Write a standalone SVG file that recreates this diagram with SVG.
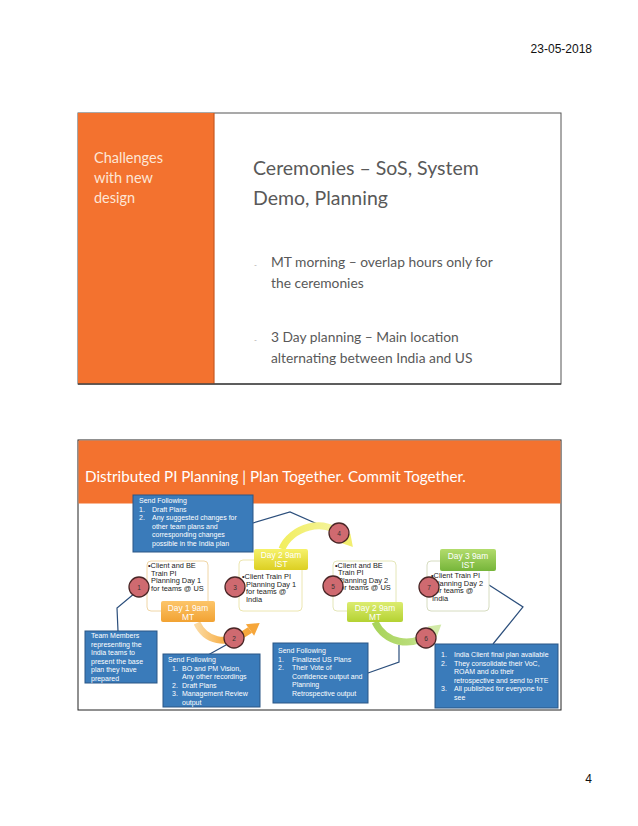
<svg xmlns="http://www.w3.org/2000/svg" width="638" height="826" viewBox="0 0 638 826">
<defs>
<style>
.sans{font-family:"Liberation Sans",Arial,sans-serif}
.cal{font-family:Lato,"Open Sans",sans-serif}
.blue{fill:#3a7bba;stroke:#2a5685;stroke-width:1}
.bt{font-family:"Liberation Sans",Arial,sans-serif;font-size:7px;fill:#ffffff}
.node{fill:#ffffff;stroke-width:1}
.nt{font-family:"Liberation Sans",Arial,sans-serif;font-size:7.4px;fill:#222222}
.lbl{font-family:"Liberation Sans",Arial,sans-serif;font-size:8.4px;fill:#ffffff;text-anchor:middle}
.circ{fill:#cf6a70;stroke:#4a2626;stroke-width:1.3}
.cn{font-family:"Liberation Sans",Arial,sans-serif;font-size:6.5px;fill:#333;text-anchor:middle}
.conn{fill:none;stroke:#2c4f7c;stroke-width:1.2}
</style>
<linearGradient id="gOr" x1="0" y1="0" x2="0" y2="1"><stop offset="0" stop-color="#fcc56a"/><stop offset="1" stop-color="#f2a232"/></linearGradient>
<linearGradient id="gYe" x1="0" y1="0" x2="0" y2="1"><stop offset="0" stop-color="#f6f26a"/><stop offset="1" stop-color="#dccf22"/></linearGradient>
<linearGradient id="gYg" x1="0" y1="0" x2="0" y2="1"><stop offset="0" stop-color="#dcec70"/><stop offset="1" stop-color="#b4d232"/></linearGradient>
<linearGradient id="gGr" x1="0" y1="0" x2="0" y2="1"><stop offset="0" stop-color="#b2dc6c"/><stop offset="1" stop-color="#76b53a"/></linearGradient>
<linearGradient id="aOr" x1="0" y1="0" x2="1" y2="0"><stop offset="0" stop-color="#fbd9a0"/><stop offset="0.5" stop-color="#f7b04a"/><stop offset="1" stop-color="#f6a63a"/></linearGradient>
<linearGradient id="aYe" x1="0" y1="0" x2="1" y2="0"><stop offset="0" stop-color="#f2ee60"/><stop offset="1" stop-color="#f4f4a8"/></linearGradient>
<linearGradient id="aGr" x1="0" y1="0" x2="1" y2="0"><stop offset="0" stop-color="#a8d45a"/><stop offset="0.6" stop-color="#b8dc78"/><stop offset="1" stop-color="#d6ecb0"/></linearGradient>
</defs>
<rect width="638" height="826" fill="#ffffff"/>

<text class="sans" x="592" y="53" font-size="12" text-anchor="end" fill="#111">23-05-2018</text>
<text class="sans" x="592" y="783" font-size="12" text-anchor="end" fill="#111">4</text>

<!-- Top slide -->
<g id="slide1">
<rect x="78" y="113" width="483" height="271" fill="#ffffff" stroke="#555" stroke-width="1"/>
<rect x="78" y="113" width="136" height="271" fill="#f3722f"/>
<line x1="214" y1="113" x2="214" y2="384" stroke="#c85a22" stroke-width="1.2"/>
<line x1="78" y1="384" x2="561" y2="384" stroke="#444" stroke-width="1.5"/>
<g class="cal" font-size="14.5" fill="#fde6d6">
<text x="94" y="163">Challenges</text>
<text x="94" y="183">with new</text>
<text x="94" y="203">design</text>
</g>
<g class="cal" fill="#595959">
<text x="253" y="175" font-size="19.5">Ceremonies – SoS, System</text>
<text x="253" y="205" font-size="19.5">Demo, Planning</text>
<text x="254" y="268" font-size="8" fill="#aaa">-</text>
<text x="271" y="267" font-size="13.8">MT morning – overlap hours only for</text>
<text x="271" y="288" font-size="13.8">the ceremonies</text>
<text x="254" y="343" font-size="8" fill="#aaa">-</text>
<text x="271" y="342" font-size="13.8">3 Day planning – Main location</text>
<text x="271" y="363" font-size="13.8">alternating between India and US</text>
</g>
</g>

<!-- Bottom slide -->
<g id="slide2">
<rect x="78" y="440" width="483" height="270" fill="#ffffff" stroke="#222" stroke-width="1"/>
<rect x="78.5" y="440.5" width="482" height="63" fill="#f3722f"/>
<text class="cal" x="85" y="482" font-size="15.2" fill="#ffffff">Distributed PI Planning | Plan Together. Commit Together.</text>
</g>

<!-- connectors -->
<g id="connectors">
<polyline class="conn" points="253,523 290,512 331,530"/>
<polyline class="conn" points="135,593 117,608 118,631"/>
<polyline class="conn" points="226,645 208,655"/>
<polyline class="conn" points="368,673 399,662 399,645"/>
<polyline class="conn" points="489,585 523,607 493,644"/>
<!-- curved arrows -->
<path d="M197 623 C205 640 225 648 250 630" fill="none" stroke="url(#aOr)" stroke-width="7"/>
<polygon points="245.9,624.3 259.7,623 254.1,635.7" fill="#f6a63a"/>
<path d="M282 549 C290 528 325 515 345 538" fill="none" stroke="url(#aYe)" stroke-width="7"/>
<polygon points="350.3,533.4 352.9,547 339.8,542.6" fill="#f2ee70"/>
<path d="M375 622 C385 642 410 650 432 632" fill="none" stroke="url(#aGr)" stroke-width="7"/>
<polygon points="436.4,637.4 441.3,624.4 427.6,626.6" fill="#d2eaa8"/>
</g>

<!-- blue note boxes -->
<g id="noteA">
<rect class="blue" x="133" y="495" width="120" height="57"/>
<text class="bt" x="139" y="503">Send Following</text>
<text class="bt" x="139" y="511.5">1.</text><text class="bt" x="152" y="511.5">Draft Plans</text>
<text class="bt" x="139" y="520">2.</text><text class="bt" x="152" y="520">Any suggested changes for</text>
<text class="bt" x="152" y="528.5">other team plans and</text>
<text class="bt" x="152" y="537">corresponding changes</text>
<text class="bt" x="152" y="545.5">possible in the India plan</text>
</g>
<g id="noteB">
<rect class="blue" x="85" y="631" width="72" height="52"/>
<text class="bt" x="91" y="638">Team Members</text>
<text class="bt" x="91" y="646.5">representing the</text>
<text class="bt" x="91" y="655">India teams to</text>
<text class="bt" x="91" y="663.5">present the base</text>
<text class="bt" x="91" y="672">plan they have</text>
<text class="bt" x="91" y="680.5">prepared</text>
</g>
<g id="noteC">
<rect class="blue" x="163" y="654" width="97" height="53"/>
<text class="bt" x="168" y="662">Send Following</text>
<text class="bt" x="172" y="670.5">1.</text><text class="bt" x="182" y="670.5">BO and PM Vision,</text>
<text class="bt" x="182" y="679">Any other recordings</text>
<text class="bt" x="172" y="687.5">2.</text><text class="bt" x="182" y="687.5">Draft Plans</text>
<text class="bt" x="172" y="696">3.</text><text class="bt" x="182" y="696">Management Review</text>
<text class="bt" x="182" y="704.5">output</text>
</g>
<g id="noteD">
<rect class="blue" x="273" y="643" width="95" height="60"/>
<text class="bt" x="278" y="653">Send Following</text>
<text class="bt" x="278" y="661.5">1.</text><text class="bt" x="292" y="661.5">Finalized US Plans</text>
<text class="bt" x="278" y="670">2.</text><text class="bt" x="292" y="670">Their Vote of</text>
<text class="bt" x="292" y="678.5">Confidence output and</text>
<text class="bt" x="292" y="687">Planning</text>
<text class="bt" x="292" y="695.5">Retrospective output</text>
</g>
<g id="noteE">
<rect class="blue" x="435" y="644" width="123" height="64"/>
<text class="bt" x="441" y="657">1.</text><text class="bt" x="454" y="657">India Client final plan available</text>
<text class="bt" x="441" y="665.5">2.</text><text class="bt" x="454" y="665.5">They consolidate their VoC,</text>
<text class="bt" x="454" y="674">ROAM and do their</text>
<text class="bt" x="454" y="682.5">retrospective and send to RTE</text>
<text class="bt" x="441" y="691">3.</text><text class="bt" x="454" y="691">All published for everyone to</text>
<text class="bt" x="454" y="699.5">see</text>
</g>

<!-- nodes -->
<g id="node1">
<rect class="node" x="147" y="561" width="61" height="50" rx="4" stroke="#f0d6a6"/>
<text class="nt" x="148" y="568">•Client and BE</text>
<text class="nt" x="151" y="575.5">Train PI</text>
<text class="nt" x="151" y="583">Planning Day 1</text>
<text class="nt" x="151" y="590.5">for teams @ US</text>
<rect x="161" y="601" width="54" height="21" rx="2" fill="url(#gOr)"/>
<text class="lbl" x="188" y="610.5">Day 1 9am</text>
<text class="lbl" x="188" y="619.5">MT</text>
</g>
<g id="node3">
<rect class="node" x="239" y="560" width="63" height="51" rx="4" stroke="#ece6b0"/>
<text class="nt" x="242" y="579">•Client Train PI</text>
<text class="nt" x="246" y="586.5">Planning Day 1</text>
<text class="nt" x="246" y="594">for teams @</text>
<text class="nt" x="246" y="601.5">India</text>
<rect x="254" y="549" width="54" height="21" rx="2" fill="url(#gYe)"/>
<text class="lbl" x="281" y="558">Day 2 9am</text>
<text class="lbl" x="281" y="567">IST</text>
</g>
<g id="node5">
<rect class="node" x="333" y="561" width="63" height="50" rx="4" stroke="#e4e6b8"/>
<text class="nt" x="335" y="567.5">•Client and BE</text>
<text class="nt" x="338" y="575">Train PI</text>
<text class="nt" x="338" y="582.5">Planning Day 2</text>
<text class="nt" x="338" y="590">for teams @ US</text>
<rect x="347" y="602" width="56" height="20" rx="2" fill="url(#gYg)"/>
<text class="lbl" x="375" y="610.5">Day 2 9am</text>
<text class="lbl" x="375" y="619.5">MT</text>
</g>
<g id="node7">
<rect class="node" x="427" y="561" width="62" height="50" rx="4" stroke="#d6dcc0"/>
<text class="nt" x="431" y="578">•Client Train PI</text>
<text class="nt" x="433" y="585.5">Planning Day 2</text>
<text class="nt" x="433" y="593">for teams @</text>
<text class="nt" x="432" y="600.5">India</text>
<rect x="440" y="549" width="56" height="22" rx="2" fill="url(#gGr)"/>
<text class="lbl" x="468" y="558.5">Day 3 9am</text>
<text class="lbl" x="468" y="567.5">IST</text>
</g>

<!-- numbered circles -->
<g id="c1"><circle class="circ" cx="139" cy="587" r="10"/><text class="cn" x="139" y="589.5">1</text></g>
<g id="c2"><circle class="circ" cx="234" cy="638" r="10"/><text class="cn" x="234" y="640.5">2</text></g>
<g id="c3"><circle class="circ" cx="235" cy="587" r="10"/><text class="cn" x="235" y="589.5">3</text></g>
<g id="c4"><circle class="circ" cx="339" cy="533" r="10"/><text class="cn" x="339" y="535.5">4</text></g>
<g id="c5"><circle class="circ" cx="333" cy="586" r="10"/><text class="cn" x="333" y="588.5">5</text></g>
<g id="c6"><circle class="circ" cx="426" cy="638" r="10"/><text class="cn" x="426" y="640.5">6</text></g>
<g id="c7"><circle class="circ" cx="429" cy="587" r="10"/><text class="cn" x="429" y="589.5">7</text></g>
</svg>
